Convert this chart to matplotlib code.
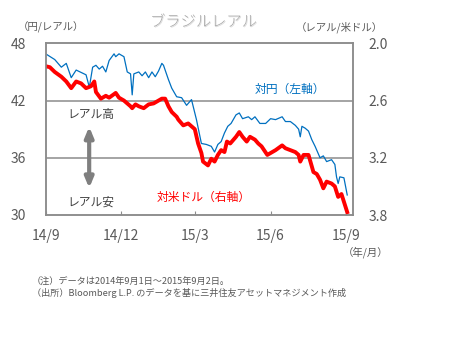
import matplotlib.pyplot as plt
import matplotlib.patheffects as pe
import pandas as pd

plt.rcParams['font.family'] = ['Noto Sans CJK JP', 'DejaVu Sans']

# 対円 (円/レアル, 左軸)
jpy_dates = ["2014-09-01", "2014-09-12", "2014-09-20", "2014-09-26", "2014-10-02", "2014-10-08",
             "2014-10-20", "2014-10-24", "2014-10-28", "2014-11-01", "2014-11-05", "2014-11-09",
             "2014-11-13", "2014-11-17", "2014-11-23", "2014-11-25", "2014-11-29", "2014-12-05",
             "2014-12-09", "2014-12-13", "2014-12-15", "2014-12-17", "2014-12-23", "2014-12-27",
             "2014-12-31", "2015-01-04", "2015-01-08", "2015-01-12", "2015-01-16", "2015-01-20",
             "2015-01-22", "2015-01-28", "2015-02-01", "2015-02-07", "2015-02-13", "2015-02-19",
             "2015-02-23", "2015-02-25", "2015-02-27", "2015-03-03", "2015-03-09", "2015-03-15",
             "2015-03-21", "2015-03-25", "2015-03-29", "2015-04-02", "2015-04-06", "2015-04-10",
             "2015-04-14", "2015-04-20", "2015-04-24", "2015-04-28", "2015-05-05", "2015-05-09",
             "2015-05-13", "2015-05-19", "2015-05-26", "2015-06-01", "2015-06-07", "2015-06-15",
             "2015-06-19", "2015-06-25", "2015-07-01", "2015-07-05", "2015-07-07", "2015-07-09",
             "2015-07-13", "2015-07-17", "2015-07-21", "2015-07-25", "2015-07-31", "2015-08-04",
             "2015-08-08", "2015-08-14", "2015-08-18", "2015-08-20", "2015-08-22", "2015-08-24",
             "2015-08-29", "2015-09-02"]
jpy = [46.9, 46.3, 45.5, 45.9, 44.4, 45.2,
       44.7, 43.4, 45.5, 45.7, 45.3, 45.6,
       45.0, 46.2, 46.9, 46.6, 46.9, 46.6,
       45.0, 44.8, 42.6, 44.8, 45.0, 44.6,
       45.0, 44.4, 45.0, 44.5, 45.1, 45.9,
       45.7, 44.2, 43.3, 42.4, 42.3, 41.5,
       41.9, 42.1, 41.4, 40.0, 37.5, 37.4,
       37.2, 36.6, 37.4, 37.7, 38.6, 39.3,
       39.6, 40.5, 40.7, 40.1, 40.3, 40.0,
       40.3, 39.6, 39.6, 40.1, 40.0, 40.3,
       39.8, 39.8, 39.4, 39.0, 38.2, 39.3,
       39.1, 38.8, 37.9, 37.2, 36.0, 36.2,
       35.6, 35.8, 35.3, 34.0, 33.3, 34.0,
       33.9, 32.1]

# 対米ドル (レアル/米ドル, 右軸)
usd_dates = ["2014-09-01", "2014-09-06", "2014-09-12", "2014-09-20", "2014-09-26", "2014-10-02",
             "2014-10-08", "2014-10-14", "2014-10-20", "2014-10-26", "2014-10-30", "2014-11-01",
             "2014-11-07", "2014-11-13", "2014-11-17", "2014-11-25", "2014-11-29", "2014-12-05",
             "2014-12-13", "2014-12-15", "2014-12-19", "2014-12-23", "2014-12-29", "2015-01-04",
             "2015-01-10", "2015-01-16", "2015-01-20", "2015-01-24", "2015-01-28", "2015-02-01",
             "2015-02-07", "2015-02-09", "2015-02-15", "2015-02-21", "2015-02-25", "2015-03-01",
             "2015-03-05", "2015-03-09", "2015-03-11", "2015-03-17", "2015-03-21", "2015-03-25",
             "2015-03-29", "2015-04-02", "2015-04-06", "2015-04-09", "2015-04-13", "2015-04-20",
             "2015-04-24", "2015-04-28", "2015-05-03", "2015-05-07", "2015-05-13", "2015-05-17",
             "2015-05-21", "2015-05-28", "2015-06-01", "2015-06-07", "2015-06-15", "2015-06-19",
             "2015-06-25", "2015-07-01", "2015-07-05", "2015-07-07", "2015-07-11", "2015-07-17",
             "2015-07-23", "2015-07-27", "2015-07-31", "2015-08-04", "2015-08-08", "2015-08-14",
             "2015-08-18", "2015-08-22", "2015-08-26", "2015-09-02"]
usd = [2.24, 2.25, 2.30, 2.35, 2.40, 2.47,
       2.40, 2.42, 2.47, 2.45, 2.40, 2.51,
       2.58, 2.55, 2.57, 2.52, 2.57, 2.60,
       2.66, 2.68, 2.64, 2.66, 2.68, 2.64,
       2.63, 2.60, 2.58, 2.58, 2.66, 2.72,
       2.77, 2.80, 2.86, 2.84, 2.87, 2.90,
       3.05, 3.15, 3.24, 3.28, 3.21, 3.24,
       3.17, 3.12, 3.14, 3.03, 3.05, 2.98,
       2.93, 2.98, 3.03, 2.98, 3.01, 3.05,
       3.08, 3.17, 3.15, 3.12, 3.07, 3.10,
       3.12, 3.14, 3.17, 3.24, 3.17, 3.17,
       3.35, 3.37, 3.43, 3.52, 3.45, 3.47,
       3.50, 3.61, 3.58, 3.77]

xtick_dates = ["2014-09-01", "2014-12-01", "2015-03-01", "2015-06-01", "2015-09-01"]
xtick_labels = ["14/9", "14/12", "15/3", "15/6", "15/9"]

gray = '#595959'
frame = '#8c8c8c'

fig = plt.figure(figsize=(4.55, 3.44), dpi=100)
ax = fig.add_axes([0.1004, 0.375, 0.6754, 0.499])
ax2 = ax.twinx()

ax.plot(pd.to_datetime(jpy_dates), jpy, color='#0070C0', lw=0.9)
ax2.plot(pd.to_datetime(usd_dates), usd, color='#FF0000', lw=2.8)

ax.set_ylim(30, 48)
ax.set_yticks([30, 36, 42, 48])
ax2.set_ylim(3.8, 2.0)
ax2.set_yticks([2.0, 2.6, 3.2, 3.8])
ax2.set_yticklabels(["2.0", "2.6", "3.2", "3.8"])
ax.set_xlim(pd.Timestamp("2014-09-01"), pd.Timestamp("2015-09-09"))
ax.set_xticks(pd.to_datetime(xtick_dates))
ax.set_xticklabels(xtick_labels)

for y in [36, 42]:
    ax.axhline(y, color=frame, lw=1.1, zorder=0)

for a in [ax, ax2]:
    for s in a.spines.values():
        s.set_color(frame)
        s.set_linewidth(1.1)
ax.tick_params(axis='y', length=0, pad=14, labelsize=10, labelcolor=gray)
ax2.tick_params(axis='y', length=0, pad=11, labelsize=10, labelcolor=gray)
ax.tick_params(axis='x', direction='in', length=3, color=frame, pad=10, labelsize=10, labelcolor=gray)

fig.text(0.447, 0.935, "ブラジルレアル", ha='center', va='center', fontsize=11, color='#a6a6a6',
         fontweight='light',
         path_effects=[pe.withSimplePatchShadow(offset=(0.6, -0.6), shadow_rgbFace='#dcdcdc', alpha=1)])
fig.text(0.04, 0.92, "（円/レアル）", ha='left', va='center', fontsize=7.5, color=gray)
fig.text(0.842, 0.92, "（レアル/米ドル）", ha='right', va='center', fontsize=7.5, color=gray)
fig.text(0.853, 0.267, "（年/月）", ha='right', va='center', fontsize=7.5, color=gray)
fig.text(0.07, 0.18, "（注）データは2014年9月1日～2015年9月2日。", ha='left', va='center', fontsize=6.6, color=gray)
fig.text(0.07, 0.148, "（出所）Bloomberg L.P. のデータを基に三井住友アセットマネジメント作成", ha='left', va='center',
         fontsize=6.6, color=gray)

fig.text(0.56, 0.741, "対円（左軸）", ha='left', va='center', fontsize=8.5, color='#0070C0')
fig.text(0.345, 0.427, "対米ドル（右軸）", ha='left', va='center', fontsize=8.5, color='#FF0000')
fig.text(0.149, 0.666, "レアル高", ha='left', va='center', fontsize=8.5, color='#404040')
fig.text(0.149, 0.413, "レアル安", ha='left', va='center', fontsize=8.5, color='#404040')
fig.add_artist(plt.Annotation("", xy=(0.196, 0.445), xytext=(0.196, 0.64), xycoords='figure fraction',
                              arrowprops=dict(arrowstyle='<|-|>,head_length=0.6,head_width=0.25',
                                              color='#7f7f7f', lw=3)))

fig.savefig("out.png", dpi=100)
